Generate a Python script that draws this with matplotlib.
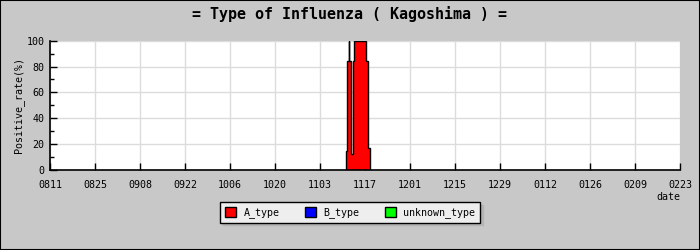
import matplotlib
matplotlib.use("Agg")
import matplotlib.pyplot as plt
from matplotlib.patches import Patch, Rectangle
import numpy as np

# Etiquetas del eje x (cada 14 días desde el 11 de agosto)
etiquetas_x = ["0811", "0825", "0908", "0922", "1006", "1020", "1103",
               "1117", "1201", "1215", "1229", "0112", "0126", "0209", "0223"]

# Perfil escalonado del tipo A (días desde 0811, valor en %)
bordes_a = [92.1, 92.5, 92.95, 93.15, 93.65, 94.2, 94.6, 98.3, 98.9, 99.6]
valores_a = [15, 84, 100, 84, 12, 84, 100, 84, 17]

# Tipo B y desconocido: sin casos
bordes_b = [92.1, 99.6]
valores_b = [0]
bordes_u = [92.1, 99.6]
valores_u = [0]

fondo = "#c8c8c8"
fuente = "DejaVu Sans Mono"

fig = plt.figure(figsize=(7, 2.5), dpi=100, facecolor=fondo)
ax = fig.add_axes([50 / 700, 80 / 250, 630 / 700, 129.3 / 250])
ax.set_facecolor("white")


def escalones(bordes, valores):
    x = [bordes[0]]
    y = [0]
    for i, v in enumerate(valores):
        x += [bordes[i], bordes[i + 1]]
        y += [v, v]
    x.append(bordes[-1])
    y.append(0)
    return np.array(x), np.array(y)


for bordes, valores, color in [(bordes_a, valores_a, "#ff0000"),
                               (bordes_b, valores_b, "#0000ff"),
                               (bordes_u, valores_u, "#00ff00")]:
    x, y = escalones(bordes, valores)
    if y.max() > 0:
        ax.fill(x, y, facecolor=color, edgecolor="black", linewidth=1, zorder=3)

dias = np.arange(len(etiquetas_x)) * 14
ax.set_xlim(0, dias[-1])
ax.set_ylim(0, 100)
ax.set_xticks(dias)
ax.set_xticklabels(etiquetas_x, fontfamily=fuente, fontsize=7.2)
ax.set_yticks(np.arange(0, 101, 20))
ax.set_yticks(np.arange(10, 100, 20), minor=True)
ax.set_yticklabels([str(v) for v in range(0, 101, 20)], fontfamily=fuente, fontsize=7.2)
ax.tick_params(axis="both", which="major", direction="in", length=5, width=1,
               pad=4, colors="black")
ax.tick_params(axis="y", which="minor", direction="in", length=3, width=1)
ax.tick_params(axis="x", which="major", pad=7)

ax.grid(True, which="major", color="#dcdcdc", linewidth=1, zorder=0)
ax.set_axisbelow(True)
for lado in ["top", "right"]:
    ax.spines[lado].set_visible(False)
for lado in ["left", "bottom"]:
    ax.spines[lado].set_linewidth(1.2)
    ax.spines[lado].set_zorder(4)

ax.set_ylabel("Positive_rate(%)", fontfamily=fuente, fontsize=7.2, labelpad=2)
fig.text(668 / 700, 1 - 197 / 250, "date", fontfamily=fuente, fontsize=7.2,
         ha="center", va="center")

fig.text(0.5, 1 - 14 / 250, "= Type of Influenza ( Kagoshima ) =",
         fontfamily=fuente, fontsize=10.8, fontweight="bold", ha="center", va="center")

handles = [Patch(facecolor="#ff0000", edgecolor="black", label="A_type"),
           Patch(facecolor="#0000ff", edgecolor="black", label="B_type"),
           Patch(facecolor="#00ff00", edgecolor="black", label="unknown_type")]
leg = fig.legend(handles=handles, loc="center", bbox_to_anchor=(0.5, 1 - 212.5 / 250),
                 ncol=3, frameon=True, fancybox=False,
                 shadow={"color": "#b4b4b4", "alpha": 1},
                 prop={"family": fuente, "size": 7.2}, handlelength=1.1,
                 handleheight=1.1, handletextpad=0.8, columnspacing=2.5,
                 borderpad=0.45)
leg.get_frame().set_facecolor("#eeeeee")
leg.get_frame().set_edgecolor("black")
leg.get_frame().set_linewidth(1)
leg.get_frame().set_alpha(1)

fig.patches.append(Rectangle((0, 0), 1, 1, transform=fig.transFigure, fill=False,
                             edgecolor="black", linewidth=1.5))

fig.savefig("out.png", dpi=100, facecolor=fondo)
